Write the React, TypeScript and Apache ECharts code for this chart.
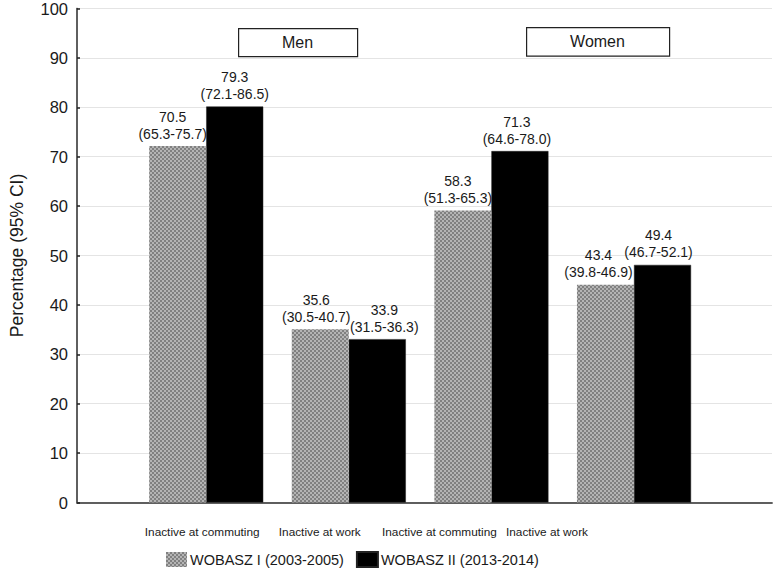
import React, { useEffect, useRef } from "react";
import * as echarts from "echarts";

const categories = [
  "Inactive at commuting",
  "Inactive at work",
  "Inactive at commuting",
  "Inactive at work",
];
const seriesNames = ["WOBASZ I (2003-2005)", "WOBASZ II (2013-2014)"];
// bar heights as drawn in the picture
const wobasz1Values = [72, 35, 59, 44];
const wobasz2Values = [80, 33, 71, 48];
// printed labels
const wobasz1Labels = ["70.5\n(65.3-75.7)", "35.6\n(30.5-40.7)", "58.3\n(51.3-65.3)", "43.4\n(39.8-46.9)"];
const wobasz2Labels = ["79.3\n(72.1-86.5)", "33.9\n(31.5-36.3)", "71.3\n(64.6-78.0)", "49.4\n(46.7-52.1)"];
const groupLabels = ["Men", "Women"];
const yName = "Percentage (95% CI)";

// horizontal nudges (layout only)
const labelShift1 = [-5, -4, -5, -7];
const labelShift2 = [0, 7, -3, -4];
const catLabelShift = [-4, -29, -52, -87];

const FONT = "'Liberation Sans', Arial, Helvetica, sans-serif";
const TXT = "#1a1a1a";

function makeChecker(): string {
  const c = document.createElement("canvas");
  c.width = 4;
  c.height = 4;
  const ctx = c.getContext("2d");
  if (!ctx) return "";
  ctx.fillStyle = "#b4b4b4";
  ctx.fillRect(0, 0, 4, 4);
  ctx.fillStyle = "#808080";
  ctx.fillRect(0, 0, 2, 2);
  ctx.fillRect(2, 2, 2, 2);
  return c.toDataURL();
}

export default function App() {
  const ref = useRef<HTMLDivElement>(null);
  useEffect(() => {
    if (!ref.current) return;
    const chart = echarts.init(ref.current, null, { renderer: "svg" });
    const checker = makeChecker();
    const grayFill: any = checker
      ? { image: checker, repeat: "repeat", imageWidth: 4, imageHeight: 4 }
      : "#9a9a9a";
    const top = 7.5;
    const height = 495;
    const labelBase = {
      show: true, position: "top", distance: 4, fontSize: 14, lineHeight: 17,
      color: TXT, fontFamily: FONT,
    };
    const catRich: any = {};
    catLabelShift.forEach((d, i) => {
      catRich["s" + i] = {
        fontSize: 11.8, color: TXT, fontFamily: FONT,
        padding: d < 0 ? [0, -2 * d, 0, 0] : [0, 0, 0, 2 * d],
      };
    });
    const option: any = {
      animation: false,
      backgroundColor: "#fff",
      textStyle: { fontFamily: FONT },
      grid: [
        { left: 64, right: 5, top, height },
        { left: 134.9, width: 570.4, top, height },
      ],
      xAxis: [
        {
          type: "value", gridIndex: 0, min: 0, max: 1, position: "bottom",
          axisLine: { show: true, lineStyle: { color: "#555", width: 1.5 } },
          axisTick: { show: false }, axisLabel: { show: false }, splitLine: { show: false },
        },
        {
          type: "value", gridIndex: 0, min: 0, max: 1, position: "top",
          axisLine: { show: true, lineStyle: { color: "#555", width: 1.5 } },
          axisTick: { show: false }, axisLabel: { show: false }, splitLine: { show: false },
        },
        {
          type: "category", gridIndex: 1, data: categories,
          axisLine: { show: false }, axisTick: { show: false },
          axisLabel: {
            interval: 0, fontSize: 11.8, color: TXT, margin: 23.5, fontFamily: FONT,
            formatter: (v: string, i: number) => `{s${i}|${v}}`,
            rich: catRich,
          },
        },
      ],
      yAxis: [
        {
          type: "value", gridIndex: 0, min: 0, max: 100, interval: 10,
          name: yName, nameLocation: "middle", nameGap: 51,
          nameTextStyle: { fontSize: 17.5, color: TXT, fontFamily: FONT },
          axisLine: { show: true, lineStyle: { color: "#555", width: 1.5 } },
          axisTick: { show: false },
          axisLabel: { fontSize: 16.5, color: TXT, margin: 9, fontFamily: FONT },
          splitLine: { show: true, lineStyle: { color: "#e4e4e4", width: 1 } },
        },
        {
          type: "value", gridIndex: 0, min: 0, max: 100, interval: 10, position: "right",
          axisLine: { show: true, lineStyle: { color: "#555", width: 1.5 } },
          axisTick: { show: true, length: 3, lineStyle: { color: "#222", width: 1.5 } },
          axisLabel: { show: false }, splitLine: { show: false },
        },
        {
          type: "value", gridIndex: 1, min: 0, max: 100, show: false,
        },
      ],
      legend: {
        left: 161, top: 546, itemWidth: 21, itemHeight: 15, itemGap: 12,
        icon: "rect",
        textStyle: { fontSize: 14.5, color: TXT, fontFamily: FONT, padding: [0, 0, 0, -2] },
        data: seriesNames,
      },
      series: [
        {
          name: seriesNames[0], type: "bar", xAxisIndex: 2, yAxisIndex: 2, z: 3,
          data: wobasz1Values.map((v, i) => ({
            value: v,
            label: { offset: [labelShift1[i], 0] },
          })),
          barGap: "0%", barCategoryGap: "20%",
          itemStyle: { color: grayFill },
          label: { ...labelBase, formatter: (p: any) => wobasz1Labels[p.dataIndex] },
        },
        {
          name: seriesNames[1], type: "bar", xAxisIndex: 2, yAxisIndex: 2, z: 2,
          data: wobasz2Values.map((v, i) => ({
            value: v,
            label: { offset: [labelShift2[i], 0] },
          })),
          barGap: "0%", barCategoryGap: "20%",
          itemStyle: { color: "#000", borderColor: "#222", borderWidth: 0.5 },
          label: { ...labelBase, formatter: (p: any) => wobasz2Labels[p.dataIndex] },
        },
      ],
      graphic: [
        {
          type: "rect", left: 238, top: 28,
          shape: { width: 119, height: 28 },
          style: { fill: "#fff", stroke: "#222", lineWidth: 1.2 },
        },
        {
          type: "text", x: 297.5, y: 42,
          style: { text: groupLabels[0], fontSize: 16, fill: TXT, fontFamily: FONT, align: "center", verticalAlign: "middle" },
        },
        {
          type: "rect", left: 526, top: 27,
          shape: { width: 143, height: 28.5 },
          style: { fill: "#fff", stroke: "#222", lineWidth: 1.2 },
        },
        {
          type: "text", x: 597.5, y: 41.5,
          style: { text: groupLabels[1], fontSize: 16, fill: TXT, fontFamily: FONT, align: "center", verticalAlign: "middle" },
        },
      ],
    };
    chart.setOption(option);
    return () => chart.dispose();
  }, []);
  return <div ref={ref} style={{ width: 777, height: 581, position: "absolute", left: 0, top: 0 }} />;
}
